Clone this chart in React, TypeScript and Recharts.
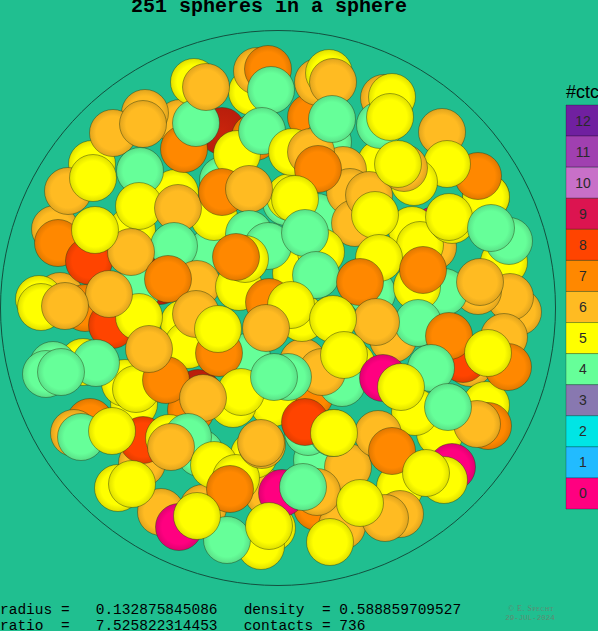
import React from "react";
import { ScatterChart, Scatter, XAxis, YAxis, ReferenceDot, ReferenceArea } from "recharts";

type S = [number, number, number];

const deepSpheres: S[] = [[222, 131, 8], [160, 281, 8], [198, 393, 8]];

const rearSpheres: S[] = [
  [213, 250, 4], [223, 180, 4], [137, 290, 4], [286, 202, 4], [290, 197, 5], [317, 217, 4], [247, 357, 4],
  [303, 362, 6], [302, 318, 5], [307, 273, 5], [296, 273, 5], [310, 395, 7], [191, 410, 7], [200, 453, 4], [317, 460, 4],
  [180, 123, 6], [255, 137, 7], [60, 296, 6], [85, 308, 7], [132, 230, 5], [268, 493, 6], [254, 455, 5], [273, 403, 5],
  [308, 432, 4], [317, 507, 7], [342, 526, 6], [203, 508, 6], [142, 463, 6], [134, 404, 5], [233, 404, 5], [90, 422, 7],
  [74, 433, 6], [83, 362, 5], [53, 365, 4], [46, 374, 4], [118, 488, 5], [125, 383, 5], [184, 323, 5], [188, 345, 5],
  [311, 117, 7], [252, 92, 5], [257, 71, 6], [194, 82, 5], [145, 113, 6], [92, 164, 5], [175, 193, 5], [214, 217, 5],
  [245, 258, 5], [55, 229, 6], [39, 299, 5], [41, 307, 5], [318, 82, 6], [329, 73, 5], [328, 142, 4], [381, 163, 5],
  [384, 98, 6], [380, 125, 4], [343, 170, 6], [350, 192, 6], [355, 223, 6], [435, 230, 0], [412, 230, 5], [433, 247, 6],
  [420, 245, 5], [452, 220, 5], [486, 197, 5], [504, 262, 5], [509, 241, 4], [518, 312, 6], [510, 297, 6], [478, 291, 6],
  [504, 337, 6], [470, 363, 6], [463, 359, 8], [372, 293, 4], [444, 292, 4], [417, 287, 5], [393, 339, 6], [352, 365, 5],
  [486, 405, 5], [488, 426, 7], [440, 433, 5], [452, 467, 0], [444, 480, 5], [400, 487, 5], [400, 514, 6], [348, 467, 6],
  [333, 433, 4], [342, 383, 4], [272, 528, 5], [261, 546, 5], [227, 540, 4], [161, 512, 6], [179, 527, 0], [282, 493, 0],
];

const middleSpheres: S[] = [
  [113, 133, 6], [143, 124, 6], [184, 149, 7], [196, 123, 4], [206, 87, 6], [268, 69, 7], [271, 90, 4], [237, 154, 5],
  [262, 131, 4], [292, 152, 5], [311, 152, 6], [318, 169, 7], [333, 82, 6], [332, 119, 4], [68, 191, 6], [93, 178, 5],
  [140, 171, 4], [139, 206, 5], [178, 208, 6], [222, 192, 7], [249, 189, 6], [295, 199, 5], [249, 234, 4], [268, 246, 4],
  [321, 252, 5], [305, 233, 4], [174, 246, 4], [58, 243, 7], [89, 261, 8], [131, 252, 6], [95, 230, 5], [197, 284, 6], [168, 279, 7],
  [239, 287, 5], [245, 259, 5], [236, 257, 7], [316, 275, 4], [369, 195, 6], [375, 215, 5], [379, 258, 5], [360, 282, 7],
  [392, 97, 5], [390, 117, 5], [486, 197, 5], [478, 176, 7], [442, 132, 6], [447, 164, 5], [414, 182, 5], [404, 168, 6],
  [398, 164, 5], [449, 217, 5], [423, 270, 7], [491, 228, 4], [480, 282, 6],
];

const frontSpheres: S[] = [
  [418, 323, 4], [449, 336, 7], [431, 368, 4], [508, 367, 7], [488, 353, 5], [376, 322, 6], [269, 302, 7], [291, 305, 5],
  [333, 319, 5], [322, 372, 6], [344, 355, 5], [383, 378, 0], [415, 412, 5], [401, 387, 5], [477, 424, 6], [448, 407, 4],
  [378, 434, 6], [392, 451, 7], [305, 422, 8], [334, 433, 5], [426, 473, 5], [317, 492, 6], [303, 487, 4], [385, 518, 6],
  [360, 503, 5], [330, 542, 5], [269, 526, 5], [112, 325, 8], [139, 317, 5], [109, 294, 6], [65, 306, 6], [136, 389, 5],
  [166, 380, 7], [149, 349, 6], [96, 363, 4], [61, 372, 4], [196, 314, 6], [219, 353, 7], [218, 329, 5], [266, 328, 6],
  [241, 392, 5], [288, 377, 4], [274, 377, 4], [203, 398, 6], [81, 437, 4], [143, 440, 8], [112, 431, 5], [169, 438, 5],
  [188, 437, 4], [171, 447, 6], [214, 465, 5], [236, 478, 5], [230, 489, 7], [262, 445, 6], [261, 443, 6], [132, 484, 5],
  [197, 516, 5],
];

const palette: Record<number, string> = {
  0: "#ff0080", 1: "#22bbff", 2: "#00e5e5", 3: "#8878b0", 4: "#66ff99", 5: "#ffff00", 6: "#ffbb22",
  7: "#ff8800", 8: "#ff4400", 9: "#dc1450", 10: "#c870c8", 11: "#a040b0", 12: "#7020a0",
};
const edgePalette: Record<number, string> = {
  0: "#e00070", 4: "#5ae088", 5: "#e0e000", 6: "#e0a41e", 7: "#e07800", 8: "#e03c00",
};
const legendLevels = [12, 11, 10, 9, 8, 7, 6, 5, 4, 3, 2, 1, 0];
const usedLevels = [0, 4, 5, 6, 7, 8];

const toRows = (list: S[]) => list.map(([x, y, c]) => ({ x, y, c }));

const sphereShape = (prefix: string) => (props: any) => (
  <circle
    cx={props.cx}
    cy={props.cy}
    r={23.5}
    fill={`url(#${prefix}${props.payload.c})`}
    stroke="#2a3a10"
    strokeOpacity={0.55}
    strokeWidth={0.8}
  />
);

const mono = "'Liberation Mono', monospace";
const sans = "'Liberation Sans', sans-serif";

export default function App() {
  return (
    <div style={{ position: "fixed", left: 0, top: 0, width: 598, height: 631, overflow: "hidden", background: "#20bf90" }}>
      <ScatterChart width={598} height={631} margin={{ top: 0, right: 0, bottom: 0, left: 0 }}>
        <defs>
          {usedLevels.map((c) => (
            <radialGradient key={c} id={`g${c}`} cx="50%" cy="50%" r="50%">
              <stop offset="0%" stopColor={palette[c]} />
              <stop offset="72%" stopColor={palette[c]} />
              <stop offset="100%" stopColor={edgePalette[c]} />
            </radialGradient>
          ))}
          <radialGradient id="d8" cx="50%" cy="50%" r="50%">
            <stop offset="0%" stopColor="#c8240c" />
            <stop offset="100%" stopColor="#b81e0c" />
          </radialGradient>
        </defs>
        <XAxis type="number" dataKey="x" domain={[0, 598]} hide />
        <YAxis type="number" dataKey="y" domain={[0, 631]} reversed hide />
        <ReferenceDot x={278} y={308} r={277.5} fill="none" stroke="#14503f" strokeWidth={1} ifOverflow="visible" />
        <Scatter data={toRows(deepSpheres)} shape={sphereShape("d")} isAnimationActive={false} />
        <Scatter data={toRows(rearSpheres)} shape={sphereShape("g")} isAnimationActive={false} />
        <Scatter data={toRows(middleSpheres)} shape={sphereShape("g")} isAnimationActive={false} />
        <Scatter data={toRows(frontSpheres)} shape={sphereShape("g")} isAnimationActive={false} />
        {legendLevels.map((c, i) => (
          <ReferenceArea
            key={c}
            x1={566}
            x2={600}
            y1={105 + i * 31.08}
            y2={105 + (i + 1) * 31.08}
            fill={palette[c]}
            fillOpacity={1}
            stroke="#000000"
            strokeOpacity={0.25}
            ifOverflow="visible"
            label={{ value: String(c), position: "center", fill: "#2a2a2a", fontSize: 14, fontFamily: sans }}
          />
        ))}
        <text x={566} y={98} fontSize={18} fontFamily={sans} fill="#000">#ctc</text>
        <text x={269} y={12} fontSize={20} fontWeight="bold" textAnchor="middle" fontFamily={mono} fill="#000">251 spheres in a sphere</text>
        <text x={0} y={614} fontSize={14.5} fontFamily={mono} fill="#000" xmlSpace="preserve">radius =   0.132875845086   density  = 0.588859709527</text>
        <text x={0} y={630} fontSize={14.5} fontFamily={mono} fill="#000" xmlSpace="preserve">ratio  =   7.525822314453   contacts = 736</text>
        <text x={531} y={611} fontSize={8} textAnchor="middle" letterSpacing={0.5} fontFamily="'Liberation Serif', serif" fill="#5f8a70">© E. S<tspan fontSize={6}>PECHT</tspan></text>
        <text x={530} y={620} fontSize={7.5} textAnchor="middle" fontFamily={mono} fill="#5f8a70">29-JUL-2024</text>
      </ScatterChart>
    </div>
  );
}
